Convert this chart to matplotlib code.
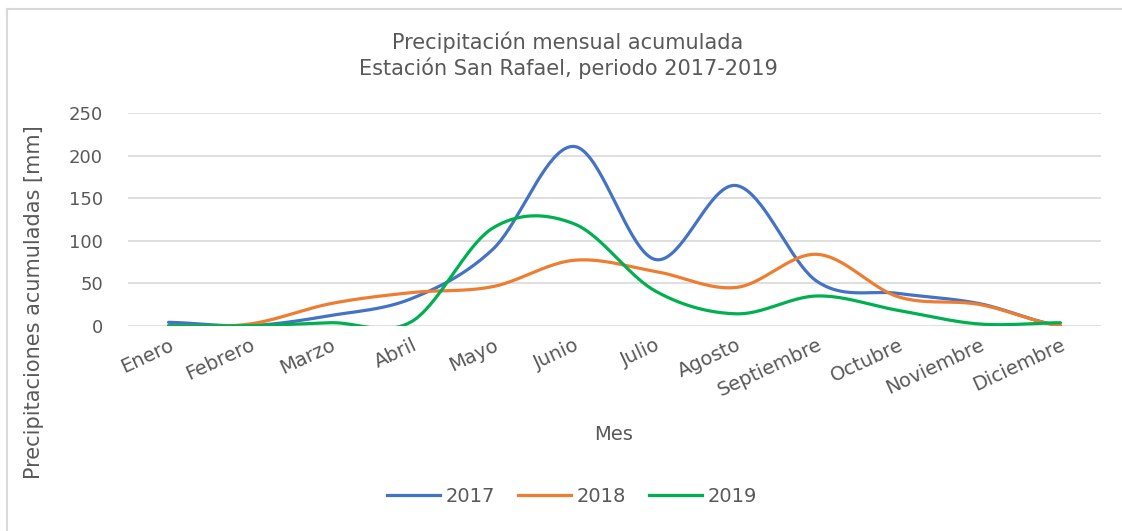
import numpy as np
import matplotlib
matplotlib.use("Agg")
import matplotlib.pyplot as plt
from matplotlib.lines import Line2D

months = ["Enero", "Febrero", "Marzo", "Abril", "Mayo", "Junio", "Julio",
          "Agosto", "Septiembre", "Octubre", "Noviembre", "Diciembre"]
p2017 = [4, 0, 12, 32, 90, 211, 78, 165, 52, 38, 26, 0]
p2018 = [0, 2, 26, 39, 46, 77, 64, 45, 84, 34, 25, 0]
p2019 = [0, 0, 3.5, 5, 115, 120, 41, 14, 35, 18, 2, 3.5]
series_names = ["2017", "2018", "2019"]
colors = ["#4472C4", "#ED7D31", "#00B050"]
yticks = [0, 50, 100, 150, 200, 250]

TXT = "#595959"
plt.rcParams['font.family'] = ['DejaVu Sans']


def smooth(y, n=40):
    y = np.asarray(y, dtype=float)
    N = len(y)
    m = np.zeros(N)
    for i in range(N):
        a = y[max(i - 1, 0)]
        b = y[min(i + 1, N - 1)]
        m[i] = (b - a) / 2.0
    xs, ys = [], []
    for i in range(N - 1):
        t = np.linspace(0, 1, n, endpoint=(i == N - 2))
        h00 = 2 * t**3 - 3 * t**2 + 1
        h10 = t**3 - 2 * t**2 + t
        h01 = -2 * t**3 + 3 * t**2
        h11 = t**3 - t**2
        xs.append(i + t)
        ys.append(h00 * y[i] + h10 * m[i] + h01 * y[i + 1] + h11 * m[i + 1])
    return np.concatenate(xs), np.concatenate(ys)


W, H = 1122, 531
fig = plt.figure(figsize=(W / 100, H / 100), dpi=100)
fig.patch.set_facecolor("white")

# chart border (only top and left edges fall inside the image)
bx, by = 6.5 / W, 1 - 8.5 / H
fig.add_artist(Line2D([bx, 1.0], [by, by], transform=fig.transFigure,
                      color="#D9D9D9", lw=1.5))
fig.add_artist(Line2D([bx, bx], [0.0, by], transform=fig.transFigure,
                      color="#D9D9D9", lw=1.5))

left, right = 128 / W, 1101 / W
bottom, top = 1 - 325.7 / H, 1 - 113.3 / H
ax = fig.add_axes([left, bottom, right - left, top - bottom])
ax.set_xlim(-0.5, len(months) - 0.5)
ax.set_ylim(0, 250)
for s in ax.spines.values():
    s.set_visible(False)
ax.set_yticks(yticks)
ax.yaxis.grid(True, color="#D9D9D9", lw=1.2)
ax.set_axisbelow(True)
ax.tick_params(axis="both", length=0, colors=TXT, labelsize=13)
ax.tick_params(axis="y", pad=18)
ax.set_xticks(range(len(months)))
ax.set_xticklabels(months, rotation=25, ha="right", va="top",
                   rotation_mode="anchor", color=TXT, fontsize=14)
ax.tick_params(axis="x", pad=7)

data = [p2017, p2018, p2019]
for vals, c, name in zip(data, colors, series_names):
    xs, ys = smooth(vals)
    ax.plot(xs, ys, color=c, lw=2.3, solid_capstyle="round", label=name)

fig.text(34 / W, 1 - 302 / H, "Precipitaciones acumuladas [mm]", rotation=90,
         ha="center", va="center", color=TXT, fontsize=15)

fig.text(614 / W, 1 - 434 / H, "Mes", ha="center", va="center", color=TXT,
         fontsize=14)

fig.text(568 / W, 1 - 42 / H, "Precipitación mensual acumulada",
         ha="center", va="center", color=TXT, fontsize=15)
fig.text(568 / W, 1 - 68 / H, "Estación San Rafael, periodo 2017-2019",
         ha="center", va="center", color=TXT, fontsize=15)

handles = [Line2D([0], [0], color=c, lw=2.3) for c in colors]
leg = fig.legend(handles, series_names, loc="center", ncol=3,
                 bbox_to_anchor=(572 / W, 1 - 496 / H), frameon=False,
                 fontsize=14, handlelength=2.7, handletextpad=0.3,
                 columnspacing=1.2)
for t in leg.get_texts():
    t.set_color(TXT)

fig.savefig("out.png", dpi=100, facecolor="white")
